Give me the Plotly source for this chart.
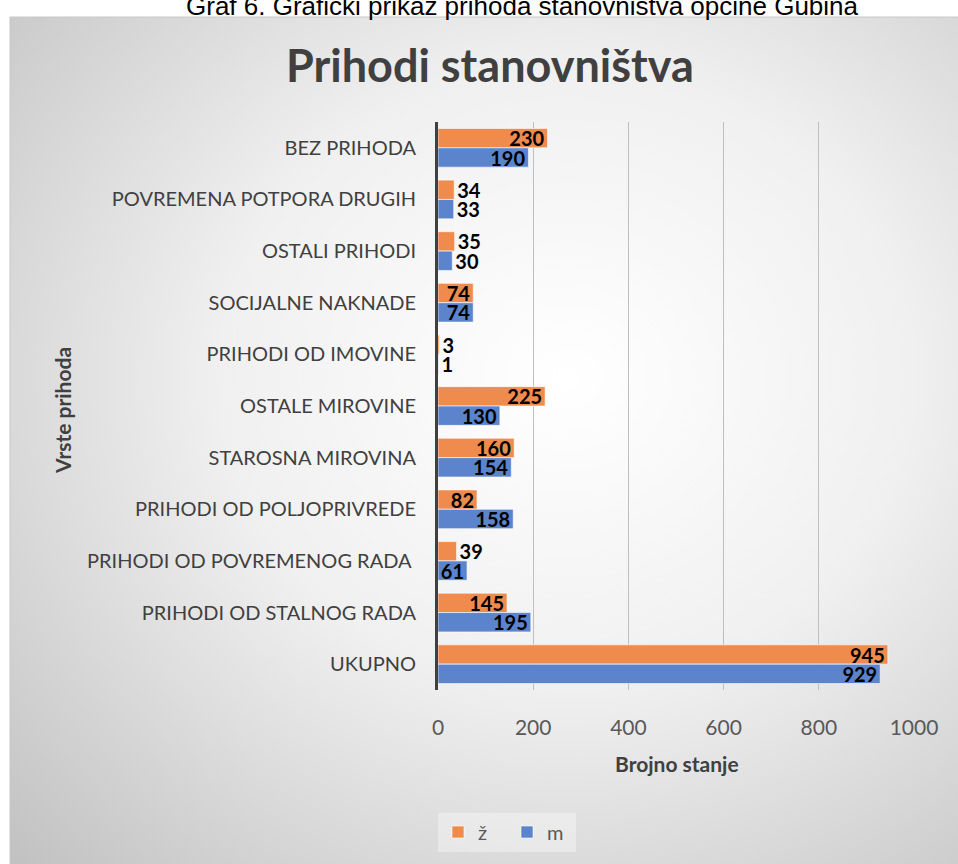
import base64
import plotly.graph_objects as go

categories = [
    "BEZ PRIHODA",
    "POVREMENA POTPORA DRUGIH",
    "OSTALI PRIHODI",
    "SOCIJALNE NAKNADE",
    "PRIHODI OD IMOVINE",
    "OSTALE MIROVINE",
    "STAROSNA MIROVINA",
    "PRIHODI OD POLJOPRIVREDE",
    "PRIHODI OD POVREMENOG RADA ",
    "PRIHODI OD STALNOG RADA",
    "UKUPNO",
]
zene = [230, 34, 35, 74, 3, 225, 160, 82, 39, 145, 945]
muski = [190, 33, 30, 74, 1, 130, 154, 158, 61, 195, 929]
x_ticks = [0, 200, 400, 600, 800, 1000]

W, H = 958, 864
L, R, T, B = 438, 44, 122, 174
PW, PH = W - L - R, H - T - B


def px(x):
    return (x - L) / PW


def py(y):
    return (H - B - y) / PH


font = "Lato, 'Open Sans', sans-serif"

svg = (
    "<svg xmlns='http://www.w3.org/2000/svg' width='960' height='860'>"
    "<defs><radialGradient id='g' cx='0.58' cy='0.42' r='0.8'>"
    "<stop offset='0' stop-color='#ffffff'/>"
    "<stop offset='0.45' stop-color='#f0f0f0'/>"
    "<stop offset='1' stop-color='#c2c2c2'/>"
    "</radialGradient></defs>"
    "<rect width='960' height='860' fill='url(#g)'/></svg>"
)
bg_uri = "data:image/svg+xml;base64," + base64.b64encode(svg.encode()).decode()

label_font = dict(family=font, size=20, color="black", weight="bold")

fig = go.Figure()
fig.add_trace(go.Bar(
    name="ž", y=categories, x=zene, orientation="h",
    marker=dict(color="#EF8B4C", line=dict(color="rgba(255,255,255,0.6)", width=1)),
    text=zene, textposition="auto", insidetextanchor="end", constraintext="none",
    textangle=0, textfont=label_font, cliponaxis=False,
))
fig.add_trace(go.Bar(
    name="m", y=categories, x=muski, orientation="h",
    marker=dict(color="#5B84CC", line=dict(color="rgba(255,255,255,0.6)", width=1)),
    text=muski, textposition="auto", insidetextanchor="end", constraintext="none",
    textangle=0, textfont=label_font, cliponaxis=False,
))

fig.update_layout(
    width=W, height=H,
    margin=dict(l=L, r=R, t=T, b=B),
    paper_bgcolor="white",
    plot_bgcolor="rgba(0,0,0,0)",
    barmode="group",
    bargap=0.25,
    bargroupgap=0,
    font=dict(family=font, color="#595959"),
    showlegend=True,
    legend=dict(
        orientation="h", x=px(438), y=py(832), xanchor="left", yanchor="middle",
        bgcolor="rgba(255,255,255,0.35)", font=dict(size=20, color="#595959"),
        itemwidth=30, entrywidth=24, entrywidthmode="pixels",
    ),
    xaxis=dict(
        range=[0, 1000], tickvals=x_ticks, showgrid=True, gridcolor="#bfbfbf",
        gridwidth=1, zeroline=False, ticks="outside", ticklen=19,
        tickcolor="rgba(0,0,0,0)", tickfont=dict(size=21, color="#595959"),
    ),
    yaxis=dict(
        autorange="reversed", showline=True, linewidth=3, linecolor="#404040",
        ticks="outside", ticklen=15, tickcolor="rgba(0,0,0,0)",
        tickfont=dict(size=20, color="#404040"),
    ),
    images=[dict(
        source=bg_uri, xref="paper", yref="paper", x=px(10), y=py(17),
        sizex=960 / PW, sizey=860 / PH, sizing="stretch", layer="below",
        xanchor="left", yanchor="top",
    )],
    shapes=[dict(
        type="rect", xref="paper", yref="paper", x0=px(10), y0=py(870),
        x1=px(970), y1=py(17), line=dict(color="#c8c8c8", width=1),
        fillcolor="rgba(0,0,0,0)", layer="below",
    )],
    annotations=[
        dict(text="Graf 6. Grafički prikaz prihoda stanovništva općine Gubina",
             xref="paper", yref="paper", x=px(522), y=py(6), showarrow=False,
             xanchor="center", yanchor="middle",
             font=dict(family="'Liberation Sans', Arial, sans-serif", size=26, color="black")),
        dict(text="<b>Prihodi stanovništva</b>", xref="paper", yref="paper",
             x=px(490), y=py(65), showarrow=False, xanchor="center", yanchor="middle",
             font=dict(size=45, color="#404040")),
        dict(text="<b>Brojno stanje</b>", xref="paper", yref="paper",
             x=px(677), y=py(763), showarrow=False, xanchor="center", yanchor="middle",
             font=dict(size=21, color="#404040")),
        dict(text="<b>Vrste prihoda</b>", xref="paper", yref="paper",
             x=px(62), y=py(411), showarrow=False, xanchor="center", yanchor="middle",
             textangle=-90, font=dict(size=21, color="#404040")),
    ],
)

fig.write_html("out.html", config={"displayModeBar": False},
               post_script="document.body.style.margin='0';")
